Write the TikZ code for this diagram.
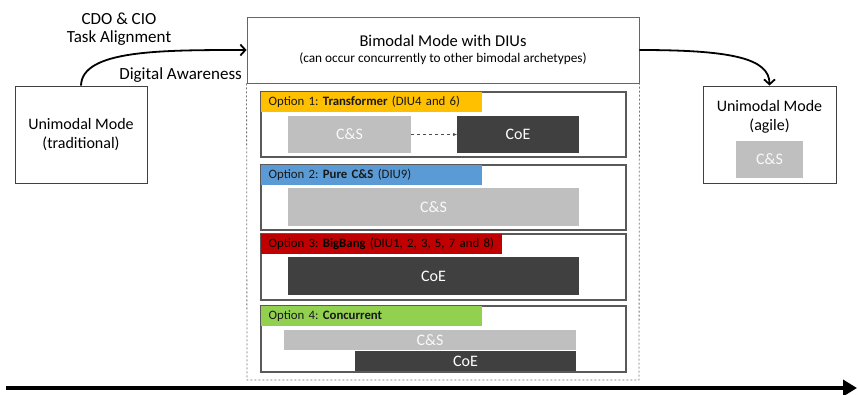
\documentclass[tikz,border=0pt]{standalone}
\usepackage{fontspec}
\setmainfont{Carlito}
\usetikzlibrary{arrows.meta}
\frenchspacing

\definecolor{bandyellow}{HTML}{FFC000}
\definecolor{bandblue}{HTML}{5B9BD5}
\definecolor{bandred}{HTML}{C00000}
\definecolor{bandgreen}{HTML}{92D050}
\definecolor{csgray}{HTML}{BFBFBF}
\definecolor{coedark}{HTML}{404040}

\tikzset{
  modebox/.style={draw=black!75, line width=0.9pt, inner sep=0pt, align=center,
    font=\fontsize{16}{19.5}\selectfont},
  optbox/.style={draw=black!65, line width=1.1pt, inner sep=0pt, minimum width=365pt},
  optband/.style={anchor=north west, inner sep=0pt, inner xsep=8pt, minimum height=20pt,
    text=black!90, align=left, font=\fontsize{12.8}{15}\selectfont},
  csblock/.style={fill=csgray, text=white!95!gray, inner sep=0pt,
    font=\fontsize{16}{18}\selectfont},
  coeblock/.style={fill=coedark, text=white, inner sep=0pt,
    font=\fontsize{16}{18}\selectfont},
  flowlbl/.style={inner sep=0pt, align=center, font=\fontsize{17}{18}\selectfont}
}

\begin{document}
\begin{tikzpicture}[x=1pt, y=-1pt]
  \useasboundingbox (0,0) rectangle (858,394);

  % the two unimodal modes
  \node[modebox, minimum width=132pt, minimum height=97pt] (uniTrad) at (81,134.5)
    {Unimodal Mode\\(traditional)};
  \node[modebox, minimum width=133pt, minimum height=97pt] (uniAgile) at (769.5,134.5) {};
  \node[modebox, draw=none] (agileTxt) at (769.5,117) {Unimodal Mode\\(agile)};
  \node[csblock, minimum width=67pt, minimum height=37pt] (agileCS) at (769.5,159.5) {C\&S};

  % bimodal mode and its options
  \node[draw=black!60, line width=0.9pt, inner sep=0pt, align=center,
        minimum width=392pt, minimum height=66pt] (bimodal) at (443,50)
    {{\fontsize{16.5}{18}\selectfont Bimodal Mode with DIUs}\\[4pt]
     {\fontsize{13.3}{15}\selectfont (can occur concurrently to other bimodal archetypes)}};
  \draw[black!55, line width=0.8pt, dash pattern=on 2pt off 2pt]
    (bimodal.south west) -- (247,380) -- (639,380) -- (bimodal.south east);

  \node[optbox, minimum height=65pt] (opt1) at (443.5,124.5) {};
  \node[optbox, minimum height=65pt] (opt2) at (443.5,197.5) {};
  \node[optbox, minimum height=66pt] (opt3) at (443.5,267) {};
  \node[optbox, minimum height=66pt] (opt4) at (443.5,339) {};

  \node[optband, fill=bandyellow, text width=205pt] (band1) at (opt1.north west)
    {Option 1: \textbf{Transformer} (DIU4 and 6)};
  \node[optband, fill=bandblue, text width=205pt] (band2) at (opt2.north west)
    {Option 2: \textbf{Pure C\&S} (DIU9)};
  \node[optband, fill=bandred, text=black, text width=225pt] (band3) at (opt3.north west)
    {\mbox{Option 3: \textbf{BigBang} (DIU1, 2, 3, 5, 7 and 8)}};
  \node[optband, fill=bandgreen, text width=205pt] (band4) at (opt4.north west)
    {Option 4: \textbf{Concurrent}};

  % option contents
  \node[csblock, minimum width=123pt, minimum height=37pt] (cs1) at (349.5,134.5) {C\&S};
  \node[coeblock, minimum width=122pt, minimum height=37pt] (coe1) at (518,134.5) {CoE};
  \draw[black!70, dashed, -{Stealth[length=4pt]}] (cs1) -- (coe1);
  \node[csblock, minimum width=291pt, minimum height=38pt] (cs2) at (433.5,207) {C\&S};
  \node[coeblock, minimum width=291pt, minimum height=38pt] (coe3) at (433.5,276) {CoE};
  \node[csblock, minimum width=292pt, minimum height=20pt] (cs4) at (430,340) {C\&S};
  \node[coeblock, minimum width=221pt, minimum height=20pt] (coe4) at (465.5,361) {CoE};

  % transitions
  \draw[line width=1.8pt, -{Straight Barb[length=5pt,width=11pt]}]
    (uniTrad.north) .. controls (82,50) and (160,50) .. (bimodal.west);
  \draw[line width=1.8pt, -{Straight Barb[length=5pt,width=11pt]}]
    (bimodal.east) .. controls (730,50) and (769.5,58) .. (uniAgile.north);
  \node[flowlbl] (alignLbl) at (119,29) {CDO \& CIO\\Task Alignment};
  \node[flowlbl, anchor=east] (awareLbl) at (242,75) {Digital Awareness};

  % time axis
  \coordinate (tStart) at (6,388);
  \coordinate (tEnd) at (857,388);
  \draw[line width=4pt, -{Triangle[length=14pt,width=16pt]}] (tStart) -- (tEnd);
\end{tikzpicture}
\end{document}
